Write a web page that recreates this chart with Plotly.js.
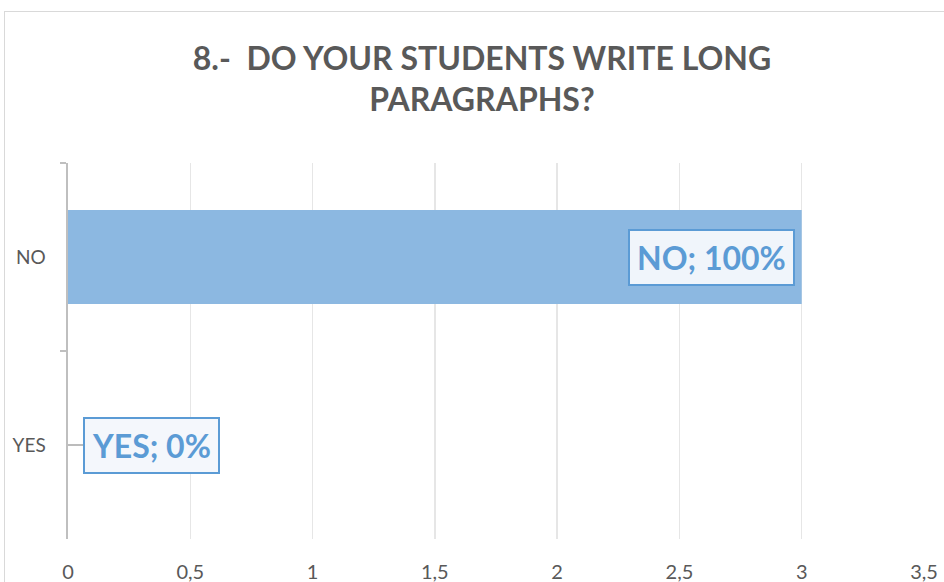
<!DOCTYPE html>
<html><head><meta charset="utf-8">
<script src="https://cdn.plot.ly/plotly-3.0.1.min.js"></script>
<style>
html,body{margin:0;padding:0;background:#fff;}
#frame{position:absolute;left:4px;top:11px;width:960px;height:600px;border:1.5px solid #D9D9D9;box-sizing:border-box;}
#chart{position:absolute;left:0;top:0;width:944px;height:582px;}
</style></head>
<body>
<div id="frame"></div>
<div id="chart"></div>
<script>
const categories = ['NO', 'YES'];
const values = [3, 0];
const labels = ['NO; 100%', 'YES; 0%'];
const xTickVals = [0, 0.5, 1, 1.5, 2, 2.5, 3, 3.5];
const xTickText = ['0', '0,5', '1', '1,5', '2', '2,5', '3', '3,5'];
const titleText = '8.-  DO YOUR STUDENTS WRITE LONG<br>PARAGRAPHS?';

const FONT = 'Lato, "Open Sans", sans-serif';
const BLUE = '#5B9BD5';

const trace = {
  type: 'bar', orientation: 'h',
  y: categories, x: values,
  marker: {color: '#8CB8E1'},
  hoverinfo: 'none'
};

const annotations = [
  {x: values[0], y: categories[0], xref: 'x', yref: 'y', text: '<b>' + labels[0] + '</b>',
   showarrow: false, xanchor: 'right', xshift: -7,
   font: {family: FONT, size: 32, color: BLUE},
   bgcolor: '#F0F5FB', bordercolor: BLUE, borderwidth: 2, borderpad: 7},
  {x: values[1], y: categories[1], xref: 'x', yref: 'y', text: '<b>' + labels[1] + '</b>',
   showarrow: true, arrowhead: 0, arrowwidth: 1.5, arrowcolor: '#A6A6A6',
   ax: 15, ay: 0, xanchor: 'left',
   font: {family: FONT, size: 32, color: BLUE},
   bgcolor: '#F4F7FC', bordercolor: BLUE, borderwidth: 2, borderpad: 7}
];

const layout = {
  width: 944, height: 582,
  paper_bgcolor: 'rgba(0,0,0,0)', plot_bgcolor: 'rgba(0,0,0,0)',
  margin: {l: 68, r: 20, t: 163, b: 43},
  title: {text: '<b>' + titleText + '</b>', font: {family: FONT, size: 32, color: '#595959'},
          x: 0.5106, xanchor: 'center', y: 0.88, yanchor: 'middle'},
  bargap: 0.5,
  showlegend: false,
  xaxis: {range: [0, 3.5], tickvals: xTickVals, ticktext: xTickText,
          showgrid: true, gridcolor: '#E6E6E6', gridwidth: 1.5, zeroline: false,
          showline: false, ticks: '', ticklabelstandoff: 19,
          tickfont: {family: FONT, size: 20, color: '#595959'}},
  yaxis: {type: 'category', autorange: 'reversed', tickson: 'boundaries',
          showline: true, linecolor: '#BFBFBF', linewidth: 2.5,
          ticks: 'outside', ticklen: 6, tickwidth: 2.5, tickcolor: '#BFBFBF',
          showgrid: false, zeroline: false, ticklabelstandoff: 16,
          tickfont: {family: FONT, size: 19, color: '#595959'}},
  annotations: annotations
};

Plotly.newPlot('chart', [trace], layout, {displayModeBar: false, staticPlot: true});
</script>
</body></html>
